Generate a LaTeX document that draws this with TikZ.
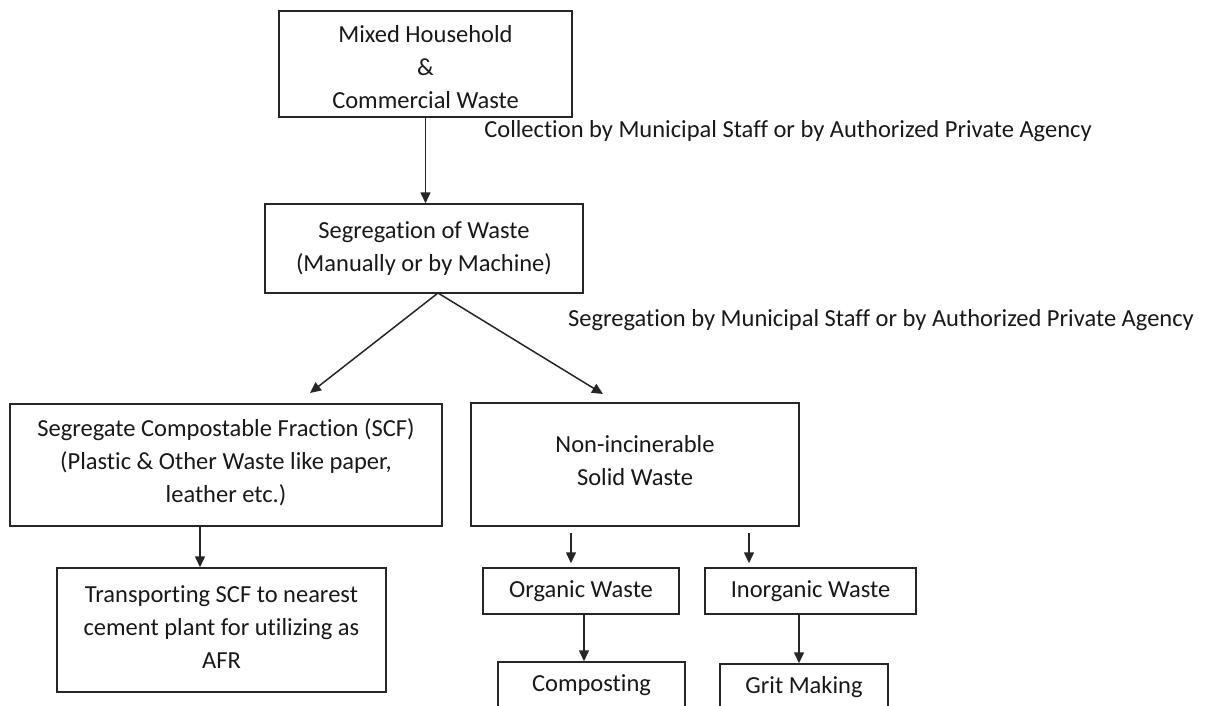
\documentclass[tikz,border=0pt]{standalone}
\usepackage{fontspec}
\setmainfont{Carlito}[Ligatures=NoCommon]
\usetikzlibrary{arrows.meta}
\begin{document}
\begin{tikzpicture}[x=1pt,y=-1pt,
  every node/.style={font=\fontsize{24.5}{33}\selectfont, text=black!90},
  box/.style={draw=black!85, line width=1.5pt, align=center, inner sep=0pt},
  lbl/.style={inner sep=0pt, align=center},
  arr/.style={draw=black!85, line width=1.5pt, -{Triangle[length=11pt,width=10pt]}}]
\path[use as bounding box, clip] (0,0) rectangle (1219,705);
\fill[white] (0,0) rectangle (1219,705);
% boxes
\node[box, minimum width=293pt, minimum height=106pt] (b1) at (425.5,64) {};
\node[lbl] (t1) at (425.5,67.5) {Mixed Household\\\&\\Commercial Waste};
\node[box, minimum width=318pt, minimum height=89pt] (b2) at (424,248.5) {Segregation of Waste\\(Manually or by Machine)};
\node[box, minimum width=432pt, minimum height=122pt] (b3) at (226,465) {};
\node[lbl] (t3) at (226,462) {Segregate Compostable Fraction (SCF)\\(Plastic \& Other Waste like paper,\\leather etc.)};
\node[box, minimum width=329pt, minimum height=124pt] (b4) at (221.5,630) {};
\node[lbl] (t4) at (221.5,627) {Transporting SCF to nearest\\cement plant for utilizing as\\AFR};
\node[box, minimum width=328pt, minimum height=123pt] (b5) at (635,464.5) {};
\node[lbl] (t5) at (635,461) {Non-incinerable\\Solid Waste};
\node[box, minimum width=196pt, minimum height=46pt] (b6) at (581,591) {Organic Waste};
\node[box, minimum width=211pt, minimum height=46pt] (b7) at (810.5,591) {Inorganic Waste};
\node[box, minimum width=187pt, minimum height=46pt] (b8) at (591.5,685) {Composting};
\node[box, minimum width=168pt, minimum height=46pt] (b9) at (804,687) {Grit Making};
% labels
\node[lbl] (l1) at (788,131) {Collection by Municipal Staff or by Authorized Private Agency};
\node[lbl] (l2) at (881,320) {Segregation by Municipal Staff or by Authorized Private Agency};
% coordinates
\coordinate (apex) at (438,293);
\coordinate (tipL) at (310,393);
\coordinate (tipR) at (603,394);
% connectors
\draw[arr] (b1.south) -- (b1.south |- b2.north);
\draw[arr] (apex) -- (tipL);
\draw[arr] (apex) -- (tipR);
\draw[arr] ([xshift=-26pt]b3.south) -- ([xshift=-21.5pt]b4.north);
\draw[arr] ([xshift=-64pt,yshift=-6pt]b5.south) -- ([xshift=-10pt,yshift=4pt]b6.north);
\draw[arr] ([xshift=114pt,yshift=-6pt]b5.south) -- ([xshift=-61.5pt,yshift=4pt]b7.north);
\draw[arr] ([xshift=3pt]b6.south) -- ([xshift=-7.5pt]b8.north);
\draw[arr] ([xshift=-11.5pt]b7.south) -- ([xshift=-5pt]b9.north);
\end{tikzpicture}
\end{document}
